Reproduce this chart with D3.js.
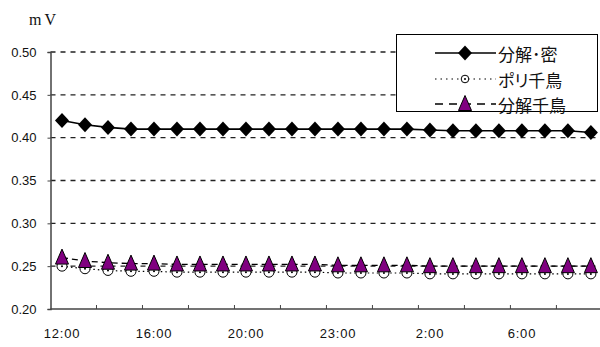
<!DOCTYPE html>
<html>
<head>
<meta charset="utf-8">
<script src="https://cdn.jsdelivr.net/npm/d3@7"></script>
<style>
  html, body { margin: 0; padding: 0; background: #fff; }
  svg { display: block; }
</style>
</head>
<body>
<svg id="chart" width="600" height="347"></svg>
<script>
// Time axis: 24 readings, a label on every fourth one
const timeLabels = ["12:00", "16:00", "20:00", "23:00", "2:00", "6:00"];
const labelEvery = 4;
const categories = d3.range(24);

// Y axis ticks (mV)
const yTicks = [0.20, 0.25, 0.30, 0.35, 0.40, 0.45, 0.50];

// Series values (mV)
const seriesNames = ["分解･密", "ポリ千鳥", "分解千鳥"];
const denseValues = [0.420, 0.415, 0.412, 0.410, 0.410, 0.410, 0.410, 0.410, 0.410, 0.410, 0.410, 0.410,
                     0.410, 0.410, 0.410, 0.410, 0.409, 0.408, 0.408, 0.408, 0.408, 0.408, 0.408, 0.406];
const polyValues = [0.250, 0.247, 0.245, 0.244, 0.244, 0.243, 0.243, 0.243, 0.243, 0.243, 0.243, 0.243,
                    0.242, 0.242, 0.242, 0.242, 0.241, 0.241, 0.241, 0.241, 0.241, 0.241, 0.241, 0.241];
const chidoriValues = [0.260, 0.256, 0.254, 0.253, 0.253, 0.252, 0.252, 0.252, 0.252, 0.252, 0.252, 0.252,
                       0.251, 0.251, 0.251, 0.251, 0.250, 0.250, 0.250, 0.250, 0.250, 0.250, 0.250, 0.250];

const svg = d3.select("#chart");
const plotLeft = 50.5, plotRight = 602.4, plotTop = 52, plotBottom = 309;

const x = d3.scaleBand().domain(categories).range([plotLeft, plotRight]).padding(0);
const y = d3.scaleLinear().domain([0.20, 0.50]).range([plotBottom, plotTop]);
const cx = i => x(i) + x.bandwidth() / 2;

// Dashed horizontal gridlines
svg.append("g").selectAll("line")
  .data(yTicks.filter(v => v > 0.20))
  .join("line")
  .attr("x1", plotLeft).attr("x2", 600)
  .attr("y1", d => y(d)).attr("y2", d => y(d))
  .attr("stroke", "#222").attr("stroke-width", 1.3)
  .attr("stroke-dasharray", "5,5");

// Y axis
const yAxis = d3.axisLeft(y).tickValues(yTicks).tickFormat(d3.format(".2f")).tickSize(3).tickPadding(11);
const gy = svg.append("g").attr("transform", `translate(${plotLeft},0)`).call(yAxis);
gy.select(".domain").attr("stroke", "#444").attr("stroke-width", 1.5);
gy.selectAll(".tick line").attr("stroke", "#444");
gy.selectAll("text")
  .attr("font-family", "Liberation Sans, Arial, sans-serif")
  .attr("font-size", 13).attr("fill", "#111");

// X axis: tick marks at every second category boundary, pointing inward
const boundaries = d3.range(2, categories.length, 2);
svg.append("line")
  .attr("x1", plotLeft).attr("x2", 600)
  .attr("y1", plotBottom).attr("y2", plotBottom)
  .attr("stroke", "#444").attr("stroke-width", 1.5);
svg.append("g").selectAll("line")
  .data(boundaries)
  .join("line")
  .attr("x1", d => x(d)).attr("x2", d => x(d))
  .attr("y1", plotBottom).attr("y2", plotBottom - 4)
  .attr("stroke", "#444").attr("stroke-width", 1);

// Category labels
svg.append("g").selectAll("text")
  .data(timeLabels)
  .join("text")
  .attr("x", (d, i) => cx(i * labelEvery))
  .attr("y", 338)
  .attr("text-anchor", "middle")
  .attr("font-family", "Liberation Sans, Arial, sans-serif")
  .attr("font-size", 13)
  .attr("letter-spacing", 0.8)
  .attr("fill", "#111")
  .text(d => d);

// Unit label
svg.append("text")
  .attr("x", 29).attr("y", 25)
  .attr("font-family", "Liberation Serif, Times New Roman, serif")
  .attr("font-size", 16)
  .attr("letter-spacing", 3)
  .attr("fill", "#111")
  .text("mV");

const line = d3.line().x((d, i) => cx(i)).y(d => y(d));

// Marker shapes
function diamond(g, px, py) {
  g.append("path")
    .attr("d", `M${px},${py - 7.5}L${px + 7},${py}L${px},${py + 7.5}L${px - 7},${py}Z`)
    .attr("fill", "#000");
}
function circle(g, px, py, r = 5) {
  g.append("circle").attr("cx", px).attr("cy", py).attr("r", r)
    .attr("fill", "#fff").attr("stroke", "#000").attr("stroke-width", 1);
  g.append("circle").attr("cx", px).attr("cy", py).attr("r", 1)
    .attr("fill", "#000");
}
function triangle(g, px, py) {
  g.append("path")
    .attr("d", `M${px},${py - 8.5}L${px + 6.5},${py + 6.5}L${px - 6.5},${py + 6.5}Z`)
    .attr("fill", "#800080").attr("stroke", "#000").attr("stroke-width", 1);
}

const series = [
  { name: seriesNames[0], values: denseValues, dash: null, width: 1.6, marker: diamond, legendDash: null },
  { name: seriesNames[1], values: polyValues, dash: "1.5,3", width: 1.2, marker: circle, legendDash: "1.5,4" },
  { name: seriesNames[2], values: chidoriValues, dash: "6,4", width: 1.3, marker: triangle, legendDash: "8,6" }
];

series.forEach(s => {
  const g = svg.append("g");
  g.append("path")
    .attr("d", line(s.values))
    .attr("fill", "none")
    .attr("stroke", "#000")
    .attr("stroke-width", s.width)
    .attr("stroke-dasharray", s.dash);
  s.values.forEach((v, i) => s.marker(g, cx(i), y(v)));
});

// Legend
const lg = svg.append("g");
lg.append("rect")
  .attr("x", 396.5).attr("y", 34.5).attr("width", 201).attr("height", 77)
  .attr("fill", "#fff").attr("stroke", "#000").attr("stroke-width", 1);
const rowY = [53, 79, 104];
series.forEach((s, i) => {
  lg.append("line")
    .attr("x1", 435).attr("x2", 496)
    .attr("y1", rowY[i]).attr("y2", rowY[i])
    .attr("stroke", "#000").attr("stroke-width", s.width)
    .attr("stroke-dasharray", s.legendDash);
  if (i === 1) circle(lg, 465, rowY[i], 3.8);
  else s.marker(lg, 465, rowY[i]);
  lg.append("text")
    .attr("x", 498).attr("y", rowY[i])
    .attr("dominant-baseline", "central")
    .attr("font-family", "Noto Sans CJK JP, sans-serif")
    .attr("font-size", 17)
    .attr("fill", "#111")
    .style("font-feature-settings", "'palt'")
    .text(s.name);
});
</script>
</body>
</html>
